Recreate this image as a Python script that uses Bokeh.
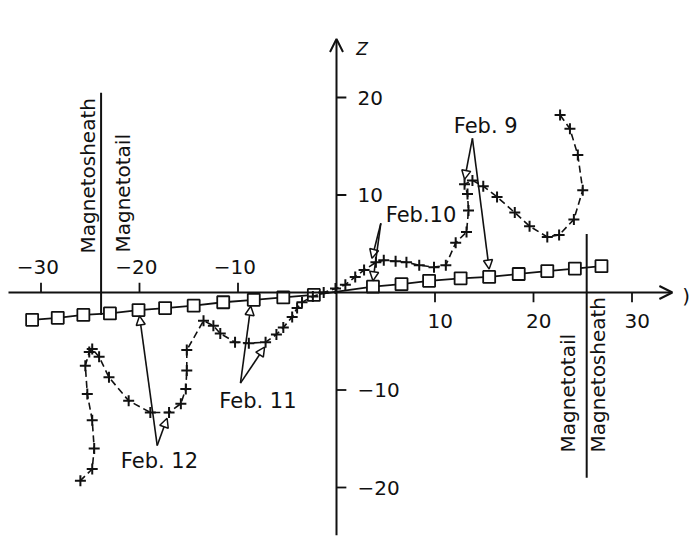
from bokeh.plotting import figure
from bokeh.models import Range1d, ColumnDataSource, Arrow, OpenHead, NormalHead
from bokeh.core.properties import value
from bokeh.embed import file_html
from bokeh.resources import INLINE
import math

FONT = "DejaVu Sans"

# ---- data ----
sq_x = [-30.9, -28.3, -25.7, -23.0, -20.1, -17.4, -14.5, -11.5, -8.4, -5.4, -2.3,
        3.7, 6.6, 9.4, 12.6, 15.5, 18.5, 21.4, 24.2, 26.9]
sq_z = [-2.8, -2.6, -2.3, -2.15, -1.8, -1.6, -1.35, -1.0, -0.75, -0.5, -0.25,
        0.6, 0.85, 1.2, 1.45, 1.6, 1.9, 2.2, 2.45, 2.7]

ns_x = [22.7, 23.7, 24.5, 25.0, 24.1, 22.6, 21.4, 19.6, 18.1, 16.3, 14.9, 13.8, 13.0,
        13.3, 13.4, 13.2, 12.1, 11.1, 9.9, 8.4, 7.1, 6.0, 4.8, 4.0, 2.8, 1.9, 0.9,
        -0.1, -1.3, -2.4, -3.5, -4.0, -4.5, -5.4, -6.1, -7.2, -8.9, -10.3, -11.8,
        -12.5, -13.5, -15.2, -15.2, -15.3, -15.8, -17.0, -18.9, -21.1, -23.1, -24.1,
        -24.8, -25.1, -25.5, -25.3, -24.8, -24.6, -24.8, -26.0]
ns_z = [18.2, 16.8, 14.1, 10.5, 7.5, 5.9, 5.7, 6.8, 8.2, 9.8, 10.9, 11.5, 11.1,
        10.1, 8.4, 6.2, 5.1, 2.8, 2.6, 2.8, 3.1, 3.2, 3.3, 3.1, 2.3, 1.6, 0.8,
        0.4, 0.0, -0.4, -1.0, -1.6, -2.5, -3.6, -4.3, -5.1, -5.2, -5.1, -4.2,
        -3.4, -2.9, -5.9, -8.0, -9.9, -11.4, -12.3, -12.3, -11.1, -8.7, -6.6,
        -5.8, -6.1, -7.5, -10.4, -13.1, -16.0, -18.1, -19.3]

x_ticks = [-30, -20, -10, 10, 20, 30]
z_ticks = [-20, -10, 10, 20]

day_labels = ["Feb. 9", "Feb.10", "Feb. 11", "Feb. 12"]
day_label_x = [11.9, 5.0, -11.9, -21.9]
day_label_z = [17.1, 8.0, -11.1, -17.3]

arrow_x0 = [13.8, 13.8, 4.5, 4.5, -9.75, -9.75, -18.2, -18.2]
arrow_z0 = [15.8, 15.8, 7.1, 7.1, -9.3, -9.3, -15.7, -15.7]
arrow_x1 = [13.0, 15.5, 3.6, 3.7, -8.7, -7.3, -20.0, -17.2]
arrow_z1 = [11.6, 2.4, 3.5, 1.2, -1.4, -5.6, -2.4, -12.9]

bound_x = [-23.9, 25.4]
bound_z0 = [20.5, 6.0]
bound_z1 = [-2.3, -19.0]

region_labels = ["Magnetosheath", "Magnetotail", "Magnetotail", "Magnetosheath"]
region_x = [-25.2, -21.7, 23.55, 26.5]
region_z = [4.0, 4.1, -16.4, -16.4]

x_axis_span = (-33.3, 34.1)
z_axis_span = (-24.9, 26.0)

# ---- figure ----
p = figure(width=690, height=548, output_backend="svg", toolbar_location=None,
           x_range=Range1d(-336 / 9.85, (690 - 336) / 9.85),
           y_range=Range1d((292 - 548) / 9.75, 292 / 9.75),
           x_axis_location=None, y_axis_location=None, min_border=0)
p.grid.visible = False
p.outline_line_color = None
p.background_fill_color = "white"
p.border_fill_color = "white"

INK = "#111111"

# axes
p.add_layout(Arrow(x_start=x_axis_span[0], y_start=0, x_end=x_axis_span[1], y_end=0,
                   line_color=INK, line_width=2,
                   end=OpenHead(size=13, line_color=INK, line_width=2)))
p.add_layout(Arrow(x_start=0, y_start=z_axis_span[0], x_end=0, y_end=z_axis_span[1],
                   line_color=INK, line_width=2,
                   end=OpenHead(size=13, line_color=INK, line_width=2)))

# x ticks: negative above, positive below
xt_y1 = [1.0 if t < 0 else -1.0 for t in x_ticks]
p.segment(x0=x_ticks, y0=[0] * len(x_ticks), x1=x_ticks, y1=xt_y1, line_color=INK, line_width=1.8)
xt_lab = [("\u2212" + str(-t)) if t < 0 else str(t) for t in x_ticks]
xt_yoff = [-26 if t < 0 else 28 for t in x_ticks]
p.text(x=x_ticks, y=[0] * len(x_ticks), text=xt_lab, x_offset=18, y_offset=xt_yoff,
       text_align="right", text_baseline="middle", text_font=value(FONT),
       text_font_size="20px", text_color=INK)

# z ticks on the right
p.segment(x0=[0] * len(z_ticks), y0=z_ticks, x1=[1.0] * len(z_ticks), y1=z_ticks,
          line_color=INK, line_width=1.8)
zt_lab = [("\u2212" + str(-t)) if t < 0 else str(t) for t in z_ticks]
p.text(x=[0] * len(z_ticks), y=z_ticks, text=zt_lab, x_offset=21,
       text_align="left", text_baseline="middle", text_font=value(FONT),
       text_font_size="20px", text_color=INK)

p.text(x=[2.6], y=[25.0], text=["Z"], text_align="center", text_baseline="middle",
       text_font=value(FONT), text_font_style="italic", text_font_size="17px", text_color=INK)
p.text(x=[35.5], y=[-0.4], text=[")"], text_align="center", text_baseline="middle",
       text_font=value(FONT), text_font_size="20px", text_color=INK)

# boundary lines
p.segment(x0=bound_x, y0=bound_z0, x1=bound_x, y1=bound_z1, line_color=INK, line_width=2)
p.text(x=region_x, y=region_z, text=region_labels, angle=math.pi / 2,
       text_align="left", text_baseline="middle", text_font=value(FONT),
       text_font_size="20px", text_color=INK)

# model line with squares
p.line(sq_x, sq_z, line_color=INK, line_width=1.8)
p.scatter(sq_x, sq_z, marker="square", size=12, fill_color="white", line_color=INK, line_width=1.8)

# neutral sheet crossings
p.line(ns_x, ns_z, line_color=INK, line_width=1.6, line_dash="7 4")
p.scatter(ns_x, ns_z, marker="cross", size=11, line_color=INK, line_width=2)

# annotation arrows
asrc = ColumnDataSource(dict(x0=arrow_x0, y0=arrow_z0, x1=arrow_x1, y1=arrow_z1))
p.add_layout(Arrow(x_start="x0", y_start="y0", x_end="x1", y_end="y1", source=asrc,
                   line_color=INK, line_width=1.6,
                   end=NormalHead(size=9, fill_color="white", line_color=INK, line_width=1.5)))

p.text(x=day_label_x, y=day_label_z, text=day_labels, text_align="left",
       text_baseline="middle", text_font=value(FONT), text_font_size="21px", text_color=INK)

open("out.html", "w").write(file_html(p, INLINE))
